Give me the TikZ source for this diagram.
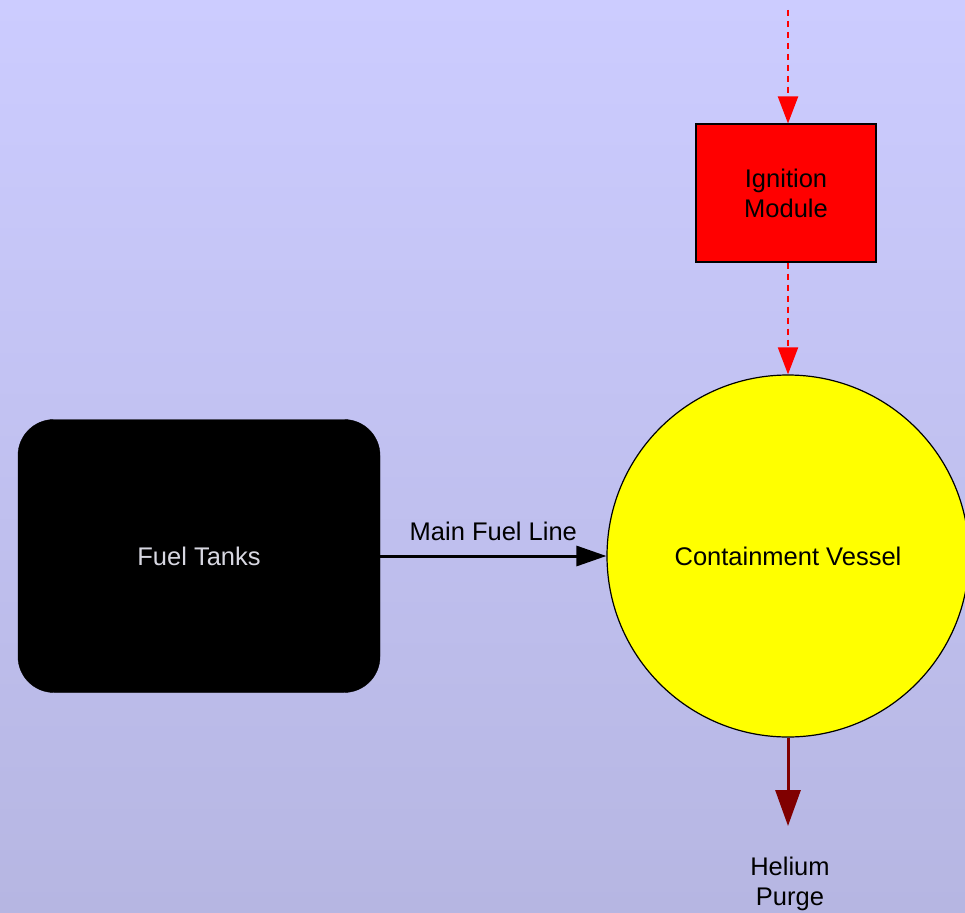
\documentclass[tikz,border=0pt]{standalone}
\usepackage{fontspec}
\setmainfont{Liberation Sans}
\usetikzlibrary{arrows.meta}
\definecolor{bgtop}{RGB}{204,204,255}
\definecolor{bgbot}{RGB}{182,182,226}
\definecolor{tanktext}{RGB}{215,215,225}
\definecolor{purge}{RGB}{128,0,0}
\definecolor{vesselfill}{RGB}{255,255,0}
\begin{document}
\begin{tikzpicture}[x=1pt,y=-1pt,
  lbl/.style={font=\fontsize{25.5}{30}\selectfont, align=center, inner sep=0pt},
  tankbox/.style={draw=black, fill=black, rounded corners=36pt, minimum width=362pt, minimum height=273pt, text=tanktext, lbl},
  modbox/.style={draw=black, line width=2pt, fill=red, minimum width=180pt, minimum height=137pt, lbl},
  vessel/.style={circle, draw=black, line width=1.2pt, fill=vesselfill, minimum size=362pt, lbl},
  ctrl/.style={draw=red, line width=2pt, dash pattern=on 6pt off 5pt, -{Triangle[length=27pt,width=20pt]}},
  flow/.style={draw=black, line width=3pt, -{Triangle[length=30pt,width=20pt]}},
  purgeflow/.style={draw=purge, line width=3pt, -{Triangle[length=36pt,width=25pt]}}]
\useasboundingbox (0,0) rectangle (965,912);
\shade[top color=bgtop, bottom color=bgbot] (0,0) rectangle (965,912);
\node[tankbox] (tanks) at (199,556) {Fuel Tanks};
\node[modbox] (ign) at (786,193) {Ignition\\Module};
\node[vessel] (ves) at (788,556) {Containment Vessel};
\coordinate (src) at (788,10);
\coordinate (out) at (788,826);
\node[lbl] (purgelbl) at (790,884) {Helium\\Purge};
\draw[ctrl] (src) -- (src |- ign.north);
\draw[ctrl] (ign.south -| ves.north) -- (ves.north);
\draw[flow] (tanks.east) -- node[lbl, above=14pt] (fuellbl) {Main Fuel Line} (ves.west);
\draw[purgeflow] (ves.south) -- (out);
\end{tikzpicture}
\end{document}
